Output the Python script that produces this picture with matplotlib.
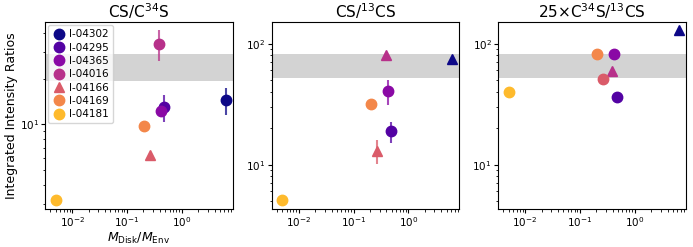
import numpy as np
import matplotlib
matplotlib.use('Agg')
import matplotlib.pyplot as plt

# ---------------- datos ----------------
fuentes = ['I-04302', 'I-04295', 'I-04365', 'I-04016', 'I-04166', 'I-04169', 'I-04181']
m_disk_env = [6.4, 0.48, 0.42, 0.39, 0.265, 0.207, 0.005]

# CS/C34S
cs_c34s = [14.5, 13.1, 12.3, 33.9, 6.3, 9.7, 3.19]
cs_c34s_lo = [3.0, 2.7, 0.8, 7.7, 0, 0, 0]
cs_c34s_hi = [2.8, 2.5, 0.8, 8.0, 0, 0, 0]
marc_1 = ['o', 'o', 'o', 'o', '^', 'o', 'o']

# CS/13CS
cs_13cs = [74.6, 19.0, 40.8, 80.6, 12.9, 31.6, 5.06]
cs_13cs_lo = [0, 3.9, 9.8, 0, 2.7, 0, 0]
cs_13cs_hi = [0, 3.5, 9.2, 0, 3.0, 0, 0]
marc_2 = ['^', 'o', 'o', '^', '^', 'o', 'o']

# 25 x C34S/13CS
c34s_13cs = [129, 36.4, 81.6, 59, 50.7, 81.6, 39.5]
marc_3 = ['^', 'o', 'o', '^', 'o', 'o', 'o']

# bandas grises (valores de referencia)
banda_34 = (19.3, 29.0)
banda_13 = (52, 82)

colores = plt.cm.plasma(np.linspace(0, 0.85, len(fuentes)))

fig = plt.figure(figsize=(6.93, 2.47), dpi=100)
ancho, alto = 0.271, 0.757
izq = [0.065, 0.392, 0.7186]
ejes = [fig.add_axes([x, 0.154, ancho, alto]) for x in izq]

paneles = [
    (cs_c34s, cs_c34s_lo, cs_c34s_hi, marc_1, banda_34, (2.78, 47.2), r'CS/C$^{34}$S'),
    (cs_13cs, cs_13cs_lo, cs_13cs_hi, marc_2, banda_13, (4.3, 151), r'CS/$^{13}$CS'),
    (c34s_13cs, None, None, marc_3, banda_13, (4.3, 151), r'25$\times$C$^{34}$S/$^{13}$CS'),
]

for ax, (vals, lo, hi, marcas, banda, ylim, titulo) in zip(ejes, paneles):
    ax.axhspan(banda[0], banda[1], color='lightgray', zorder=0, lw=0)
    for i, nombre in enumerate(fuentes):
        if lo is not None and (lo[i] > 0 or hi[i] > 0):
            ax.errorbar(m_disk_env[i], vals[i], yerr=[[lo[i]], [hi[i]]], fmt='none',
                        ecolor=colores[i], alpha=0.75, lw=1.5, zorder=2)
        ax.plot(m_disk_env[i], vals[i], marker=marcas[i], ls='none', ms=7.5,
                color=colores[i], label=nombre, zorder=3)
    ax.set_xscale('log')
    ax.set_yscale('log')
    ax.set_xlim(0.0032, 8.6)
    ax.set_ylim(*ylim)
    ax.set_title(titulo, fontsize=11, pad=3)
    ax.tick_params(labelsize=7.5, pad=1.5, length=3)
    ax.tick_params(which='minor', length=1.8)

ejes[0].set_ylabel('Integrated Intensity Ratios', fontsize=9, labelpad=1)
ejes[0].set_xlabel(r'$M_{\rm Disk}/M_{\rm Env}$', fontsize=9, labelpad=1)
ejes[0].legend(loc='upper left', fontsize=7.5, labelspacing=0.32, handletextpad=0.4,
               borderpad=0.4, handlelength=1.2, borderaxespad=0.3)

fig.savefig('out.png', dpi=100)
